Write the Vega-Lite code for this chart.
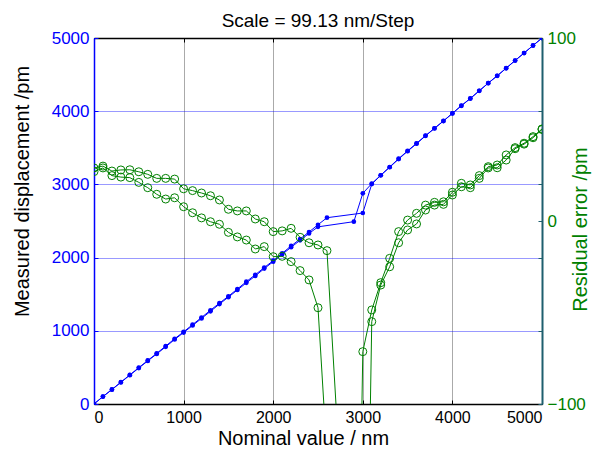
{
  "$schema": "https://vega.github.io/schema/vega-lite/v6.json",
  "width": 448,
  "height": 366,
  "autosize": {"type": "none"},
  "padding": {"left": 94, "top": 38, "right": 51, "bottom": 46},
  "background": "white",
  "title": {"text": "Scale = 99.13 nm/Step", "font": "Liberation Sans", "fontSize": 19, "fontWeight": "normal", "color": "black", "frame": "group", "anchor": "middle", "baseline": "alphabetic", "offset": -17},
  "config": {"view": {"stroke": "black", "strokeWidth": 1}, "font": "Liberation Sans"},
  "data": {"values": [
    {"x": 0, "run": "A", "disp": 0, "err": 27},
    {"x": 100, "run": "A", "disp": 101, "err": 29},
    {"x": 200, "run": "A", "disp": 196, "err": 24.8},
    {"x": 300, "run": "A", "disp": 295, "err": 24.0},
    {"x": 400, "run": "A", "disp": 394, "err": 23.7},
    {"x": 500, "run": "A", "disp": 491, "err": 21.1},
    {"x": 600, "run": "A", "disp": 588, "err": 18.2},
    {"x": 700, "run": "A", "disp": 684, "err": 14.6},
    {"x": 800, "run": "A", "disp": 781, "err": 12.0},
    {"x": 900, "run": "A", "disp": 881, "err": 12.7},
    {"x": 1000, "run": "A", "disp": 976, "err": 7.8},
    {"x": 1100, "run": "A", "disp": 1072, "err": 4.5},
    {"x": 1200, "run": "A", "disp": 1169, "err": 1.7},
    {"x": 1300, "run": "A", "disp": 1266, "err": -0.4},
    {"x": 1400, "run": "A", "disp": 1365, "err": -1.8},
    {"x": 1500, "run": "A", "disp": 1460, "err": -6.2},
    {"x": 1600, "run": "A", "disp": 1557, "err": -8.7},
    {"x": 1700, "run": "A", "disp": 1655, "err": -10.4},
    {"x": 1800, "run": "A", "disp": 1749, "err": -15.3},
    {"x": 1900, "run": "A", "disp": 1850, "err": -14.0},
    {"x": 2000, "run": "A", "disp": 1944, "err": -19.5},
    {"x": 2100, "run": "A", "disp": 2044, "err": -19.3},
    {"x": 2200, "run": "A", "disp": 2141, "err": -22.2},
    {"x": 2300, "run": "A", "disp": 2236, "err": -27.1},
    {"x": 2400, "run": "A", "disp": 2330, "err": -32.2},
    {"x": 2500, "run": "A", "disp": 2420, "err": -47.4},
    {"x": 2900, "run": "A", "disp": 2491, "err": -370},
    {"x": 3000, "run": "A", "disp": 2878, "err": -71.4},
    {"x": 3100, "run": "A", "disp": 3011, "err": -48.6},
    {"x": 3200, "run": "A", "disp": 3125, "err": -33.7},
    {"x": 3300, "run": "A", "disp": 3238, "err": -20.4},
    {"x": 3400, "run": "A", "disp": 3352, "err": -5.8},
    {"x": 3500, "run": "A", "disp": 3458, "err": 0.5},
    {"x": 3600, "run": "A", "disp": 3561, "err": 4.2},
    {"x": 3700, "run": "A", "disp": 3666, "err": 8.7},
    {"x": 3800, "run": "A", "disp": 3767, "err": 10.2},
    {"x": 3900, "run": "A", "disp": 3867, "err": 10.5},
    {"x": 4000, "run": "A", "disp": 3971, "err": 15.7},
    {"x": 4100, "run": "A", "disp": 4076, "err": 20.6},
    {"x": 4200, "run": "A", "disp": 4175, "err": 19.7},
    {"x": 4300, "run": "A", "disp": 4279, "err": 24.8},
    {"x": 4400, "run": "A", "disp": 4384, "err": 29.7},
    {"x": 4500, "run": "A", "disp": 4484, "err": 30.6},
    {"x": 4600, "run": "A", "disp": 4589, "err": 36.1},
    {"x": 4700, "run": "A", "disp": 4693, "err": 40.1},
    {"x": 4800, "run": "A", "disp": 4795, "err": 42.5},
    {"x": 4900, "run": "A", "disp": 4898, "err": 46.1},
    {"x": 5000, "run": "A", "disp": 5000, "err": 50.3},
    {"x": 0, "run": "B", "disp": 1, "err": 29},
    {"x": 100, "run": "B", "disp": 102, "err": 30},
    {"x": 200, "run": "B", "disp": 199, "err": 27.3},
    {"x": 300, "run": "B", "disp": 299, "err": 27.9},
    {"x": 400, "run": "B", "disp": 398, "err": 28.0},
    {"x": 500, "run": "B", "disp": 497, "err": 26.9},
    {"x": 600, "run": "B", "disp": 595, "err": 25.5},
    {"x": 700, "run": "B", "disp": 692, "err": 23.3},
    {"x": 800, "run": "B", "disp": 792, "err": 23.3},
    {"x": 900, "run": "B", "disp": 891, "err": 22.9},
    {"x": 1000, "run": "B", "disp": 986, "err": 17.6},
    {"x": 1100, "run": "B", "disp": 1084, "err": 16.6},
    {"x": 1200, "run": "B", "disp": 1182, "err": 15.3},
    {"x": 1300, "run": "B", "disp": 1281, "err": 13.8},
    {"x": 1400, "run": "B", "disp": 1378, "err": 11.5},
    {"x": 1500, "run": "B", "disp": 1472, "err": 6.4},
    {"x": 1600, "run": "B", "disp": 1571, "err": 5.5},
    {"x": 1700, "run": "B", "disp": 1671, "err": 5.5},
    {"x": 1800, "run": "B", "disp": 1766, "err": 1.1},
    {"x": 1900, "run": "B", "disp": 1864, "err": -0.4},
    {"x": 2000, "run": "B", "disp": 1958, "err": -5.8},
    {"x": 2100, "run": "B", "disp": 2058, "err": -5.4},
    {"x": 2200, "run": "B", "disp": 2159, "err": -4.0},
    {"x": 2300, "run": "B", "disp": 2254, "err": -8.9},
    {"x": 2400, "run": "B", "disp": 2350, "err": -11.9},
    {"x": 2500, "run": "B", "disp": 2449, "err": -13.1},
    {"x": 2600, "run": "B", "disp": 2545, "err": -16.2},
    {"x": 3000, "run": "B", "disp": 2609, "err": -350},
    {"x": 3100, "run": "B", "disp": 3004, "err": -55},
    {"x": 3200, "run": "B", "disp": 3124, "err": -35},
    {"x": 3300, "run": "B", "disp": 3234, "err": -25},
    {"x": 3400, "run": "B", "disp": 3346, "err": -11.9},
    {"x": 3500, "run": "B", "disp": 3453, "err": -4.9},
    {"x": 3600, "run": "B", "disp": 3556, "err": -1.6},
    {"x": 3700, "run": "B", "disp": 3663, "err": 6.0},
    {"x": 3800, "run": "B", "disp": 3765, "err": 8.7},
    {"x": 3900, "run": "B", "disp": 3865, "err": 9.1},
    {"x": 4000, "run": "B", "disp": 3970, "err": 14.2},
    {"x": 4100, "run": "B", "disp": 4074, "err": 18.7},
    {"x": 4200, "run": "B", "disp": 4173, "err": 18.2},
    {"x": 4300, "run": "B", "disp": 4278, "err": 23.3},
    {"x": 4400, "run": "B", "disp": 4383, "err": 29.0},
    {"x": 4500, "run": "B", "disp": 4483, "err": 29.1},
    {"x": 4600, "run": "B", "disp": 4586, "err": 33.3},
    {"x": 4700, "run": "B", "disp": 4692, "err": 39.5},
    {"x": 4800, "run": "B", "disp": 4794, "err": 42.0},
    {"x": 4900, "run": "B", "disp": 4897, "err": 45.5},
    {"x": 5000, "run": "B", "disp": 4999, "err": 50.0}
  ]},
  "resolve": {"scale": {"y": "independent"}, "axis": {"x": "independent"}},
  "layer": [
    {
      "mark": {"type": "line", "color": "#0000ff", "strokeWidth": 1, "clip": true,
               "point": {"filled": true, "size": 22, "color": "#0000ff"}},
      "encoding": {
        "x": {"field": "x", "type": "quantitative",
              "scale": {"domain": [0, 5000], "nice": false, "zero": false},
              "axis": {"orient": "bottom", "title": "Nominal value / nm", "values": [0, 1000, 2000, 3000, 4000, 5000], "format": "d",
                       "grid": true, "gridColor": "#555555", "gridDash": [1, 1], "gridWidth": 1,
                       "domainColor": "black", "domainWidth": 1.5, "tickColor": "black", "tickSize": -4, "labelPadding": 9,
                       "labelColor": "black", "labelFontSize": 16, "labelFont": "Liberation Sans",
                       "titleColor": "black", "titleFontSize": 20, "titleFontWeight": "normal", "titleFont": "Liberation Sans",
                       "titleX": 209, "titleY": 34, "titleAlign": "center", "titleBaseline": "middle"}},
        "y": {"field": "disp", "type": "quantitative",
              "scale": {"domain": [0, 5000], "nice": false},
              "axis": {"orient": "left", "title": "Measured displacement /pm", "values": [0, 1000, 2000, 3000, 4000, 5000], "format": "d",
                       "grid": true, "gridColor": "#0000ff", "gridDash": [1, 1], "gridWidth": 1, "gridOpacity": 0.8,
                       "domainColor": "#0000ff", "domainWidth": 1.5, "tickColor": "#0000ff", "tickSize": -4, "labelPadding": 9,
                       "labelColor": "#0000ff", "labelFontSize": 17, "labelFont": "Liberation Sans",
                       "titleColor": "black", "titleFontSize": 20, "titleFontWeight": "normal", "titleFont": "Liberation Sans",
                       "titleAngle": 270, "titleX": -72, "titleY": 153, "titleAlign": "center", "titleBaseline": "middle"}},
        "detail": {"field": "run", "type": "nominal"}
      }
    },
    {
      "mark": {"type": "line", "color": "#008000", "strokeWidth": 1, "clip": true,
               "point": {"filled": false, "size": 64, "color": "#008000", "strokeWidth": 1}},
      "encoding": {
        "x": {"field": "x", "type": "quantitative",
              "scale": {"domain": [0, 5000], "nice": false, "zero": false},
              "axis": {"orient": "top", "title": null, "labels": false, "values": [0, 1000, 2000, 3000, 4000, 5000],
                       "grid": false, "domainColor": "black", "domainWidth": 1.5, "tickColor": "black", "tickSize": -4}},
        "y": {"field": "err", "type": "quantitative",
              "scale": {"domain": [-100, 100], "nice": false, "zero": false},
              "axis": {"orient": "right", "title": "Residual error /pm", "values": [-100, -60, -20, 0, 20, 60, 100],
                       "labelExpr": "datum.value == 0 || abs(datum.value) == 100 ? datum.label : ''",
                       "grid": false, "domainColor": "#1e5f6e", "domainWidth": 2, "tickColor": "#1e5f6e", "tickSize": -4, "labelPadding": 9,
                       "labelColor": "#008000", "labelFontSize": 17, "labelFont": "Liberation Sans",
                       "titleColor": "#008000", "titleFontSize": 20, "titleFontWeight": "normal", "titleFont": "Liberation Sans",
                       "titleAngle": 270, "titleX": 38, "titleY": 191, "titleAlign": "center", "titleBaseline": "middle"}},
        "detail": {"field": "run", "type": "nominal"}
      }
    }
  ]
}
